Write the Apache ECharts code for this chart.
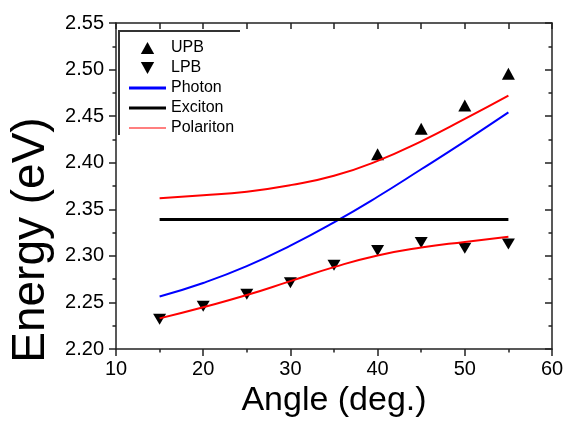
<!DOCTYPE html>
<html>
<head>
<meta charset="utf-8">
<script src="https://cdn.jsdelivr.net/npm/echarts@6/dist/echarts.min.js"></script>
<style>html,body{margin:0;padding:0;background:#fff}#c{width:567px;height:423px}</style>
</head>
<body>
<div id="c"></div>
<script>
const angles = [15, 20, 25, 30, 35, 40, 45, 50, 55];
const upbAngles = [40, 45, 50, 55];
const upbEnergy = [2.409, 2.4365, 2.4614, 2.4955];
const lpbEnergy = [2.232, 2.246, 2.259, 2.2713, 2.290, 2.3058, 2.3145, 2.3082, 2.3128];
const photonEnergy = [2.2565, 2.271, 2.289, 2.311, 2.336, 2.3635, 2.393, 2.423, 2.454];
const excitonEnergy = [2.339, 2.339, 2.339, 2.339, 2.339, 2.339, 2.339, 2.339, 2.339];
const upperPolariton = [2.362, 2.365, 2.369, 2.376, 2.386, 2.402, 2.423, 2.447, 2.472];
const lowerPolariton = [2.233, 2.245, 2.258, 2.273, 2.288, 2.3005, 2.309, 2.315, 2.3205];
const legendNames = ['UPB', 'LPB', 'Photon', 'Exciton', 'Polariton'];

const zip = (xs, ys) => xs.map((x, i) => [x, ys[i]]);
const FONT = "'Liberation Sans', Arial, sans-serif";
const AX = '#222';
const upTri = 'path://M5,0 L10,9 L0,9 Z';
const downTri = 'path://M0,0 L10,0 L5,9 Z';
const thickLine = 'path://M0,0 H37 V3 H0 Z';
const thinLine = 'path://M0,0 H37 V1 H0 Z';

const chart = echarts.init(document.getElementById('c'), null, {renderer: 'canvas'});
chart.setOption({
  animation: false,
  backgroundColor: '#fff',
  textStyle: {fontFamily: FONT},
  grid: {left: 113, right: 15, top: 23, bottom: 68, containLabel: false},
  legend: {
    orient: 'vertical',
    left: 129,
    top: 38,
    padding: 0,
    itemWidth: 37,
    itemHeight: 12,
    itemGap: 0,
    symbolKeepAspect: true,
    textStyle: {fontSize: 16, color: '#000', lineHeight: 20, fontFamily: FONT},
    data: [
      {name: legendNames[0], icon: upTri},
      {name: legendNames[1], icon: downTri},
      {name: legendNames[2], icon: thickLine},
      {name: legendNames[3], icon: thickLine},
      {name: legendNames[4], icon: thinLine}
    ]
  },
  graphic: [
    {type: 'polyline', shape: {points: [[119, 135], [119, 31], [240, 31]]},
     style: {stroke: '#333', lineWidth: 2, fill: null}, z: 100}
  ],
  xAxis: [
    {
      type: 'value', position: 'bottom', min: 10, max: 60, interval: 10,
      axisLine: {lineStyle: {color: AX, width: 1.5}},
      axisTick: {inside: false, length: 7, lineStyle: {color: AX, width: 1.5}},
      minorTick: {show: true, splitNumber: 2, length: 3.5, lineStyle: {color: AX, width: 1.5}},
      splitLine: {show: false},
      axisLabel: {fontSize: 20, color: '#000', margin: 10, fontFamily: FONT},
      name: 'Angle (deg.)', nameLocation: 'middle', nameGap: 32,
      nameTextStyle: {fontSize: 34, color: '#000', fontFamily: FONT}
    },
    {
      type: 'value', position: 'top', min: 10, max: 60, interval: 5,
      axisLine: {lineStyle: {color: AX, width: 1.5}},
      axisTick: {inside: true, length: 6, lineStyle: {color: AX, width: 1.5}},
      splitLine: {show: false},
      axisLabel: {show: false}
    }
  ],
  yAxis: [
    {
      type: 'value', position: 'left', min: 2.2, max: 2.55, interval: 0.05,
      axisLine: {show: true, lineStyle: {color: AX, width: 1.5}},
      axisTick: {show: true, inside: false, length: 7, lineStyle: {color: AX, width: 1.5}},
      minorTick: {show: true, splitNumber: 2, length: 3.5, lineStyle: {color: AX, width: 1.5}},
      splitLine: {show: false},
      axisLabel: {fontSize: 20, color: '#000', margin: 12, fontFamily: FONT,
                  formatter: v => v.toFixed(2)},
      name: 'Energy (eV)', nameLocation: 'middle', nameGap: 62,
      nameTextStyle: {fontSize: 46, color: '#000', fontFamily: FONT, padding: [0, 108, 0, 0]}
    },
    {
      type: 'value', position: 'right', min: 2.2, max: 2.55, interval: 0.05,
      axisLine: {show: true, lineStyle: {color: AX, width: 1.5}},
      axisTick: {show: true, inside: true, length: 7, lineStyle: {color: AX, width: 1.5}},
      minorTick: {show: true, splitNumber: 2, length: 3.5, lineStyle: {color: AX, width: 1.5}},
      splitLine: {show: false},
      axisLabel: {show: false}
    }
  ],
  series: [
    {
      name: 'UPB', type: 'scatter', xAxisIndex: 0, yAxisIndex: 0,
      symbol: upTri, symbolSize: [13, 12],
      itemStyle: {color: '#000', opacity: 1},
      data: zip(upbAngles, upbEnergy)
    },
    {
      name: 'LPB', type: 'scatter', xAxisIndex: 0, yAxisIndex: 0,
      symbol: downTri, symbolSize: [13, 11],
      itemStyle: {color: '#000', opacity: 1},
      data: zip(angles, lpbEnergy)
    },
    {
      name: 'Photon', type: 'line', smooth: true, symbol: 'none',
      itemStyle: {color: '#0000ff'}, lineStyle: {color: '#0000ff', width: 2},
      data: zip(angles, photonEnergy)
    },
    {
      name: 'Exciton', type: 'line', symbol: 'none',
      itemStyle: {color: '#000'}, lineStyle: {color: '#000', width: 3},
      data: zip(angles, excitonEnergy)
    },
    {
      name: 'Polariton', type: 'line', smooth: true, symbol: 'none',
      itemStyle: {color: '#ff0000'}, lineStyle: {color: '#ff0000', width: 2},
      data: zip(angles, upperPolariton)
    },
    {
      name: 'Polariton', type: 'line', smooth: true, symbol: 'none',
      itemStyle: {color: '#ff0000'}, lineStyle: {color: '#ff0000', width: 2},
      data: zip(angles, lowerPolariton)
    }
  ]
});
</script>
</body>
</html>
